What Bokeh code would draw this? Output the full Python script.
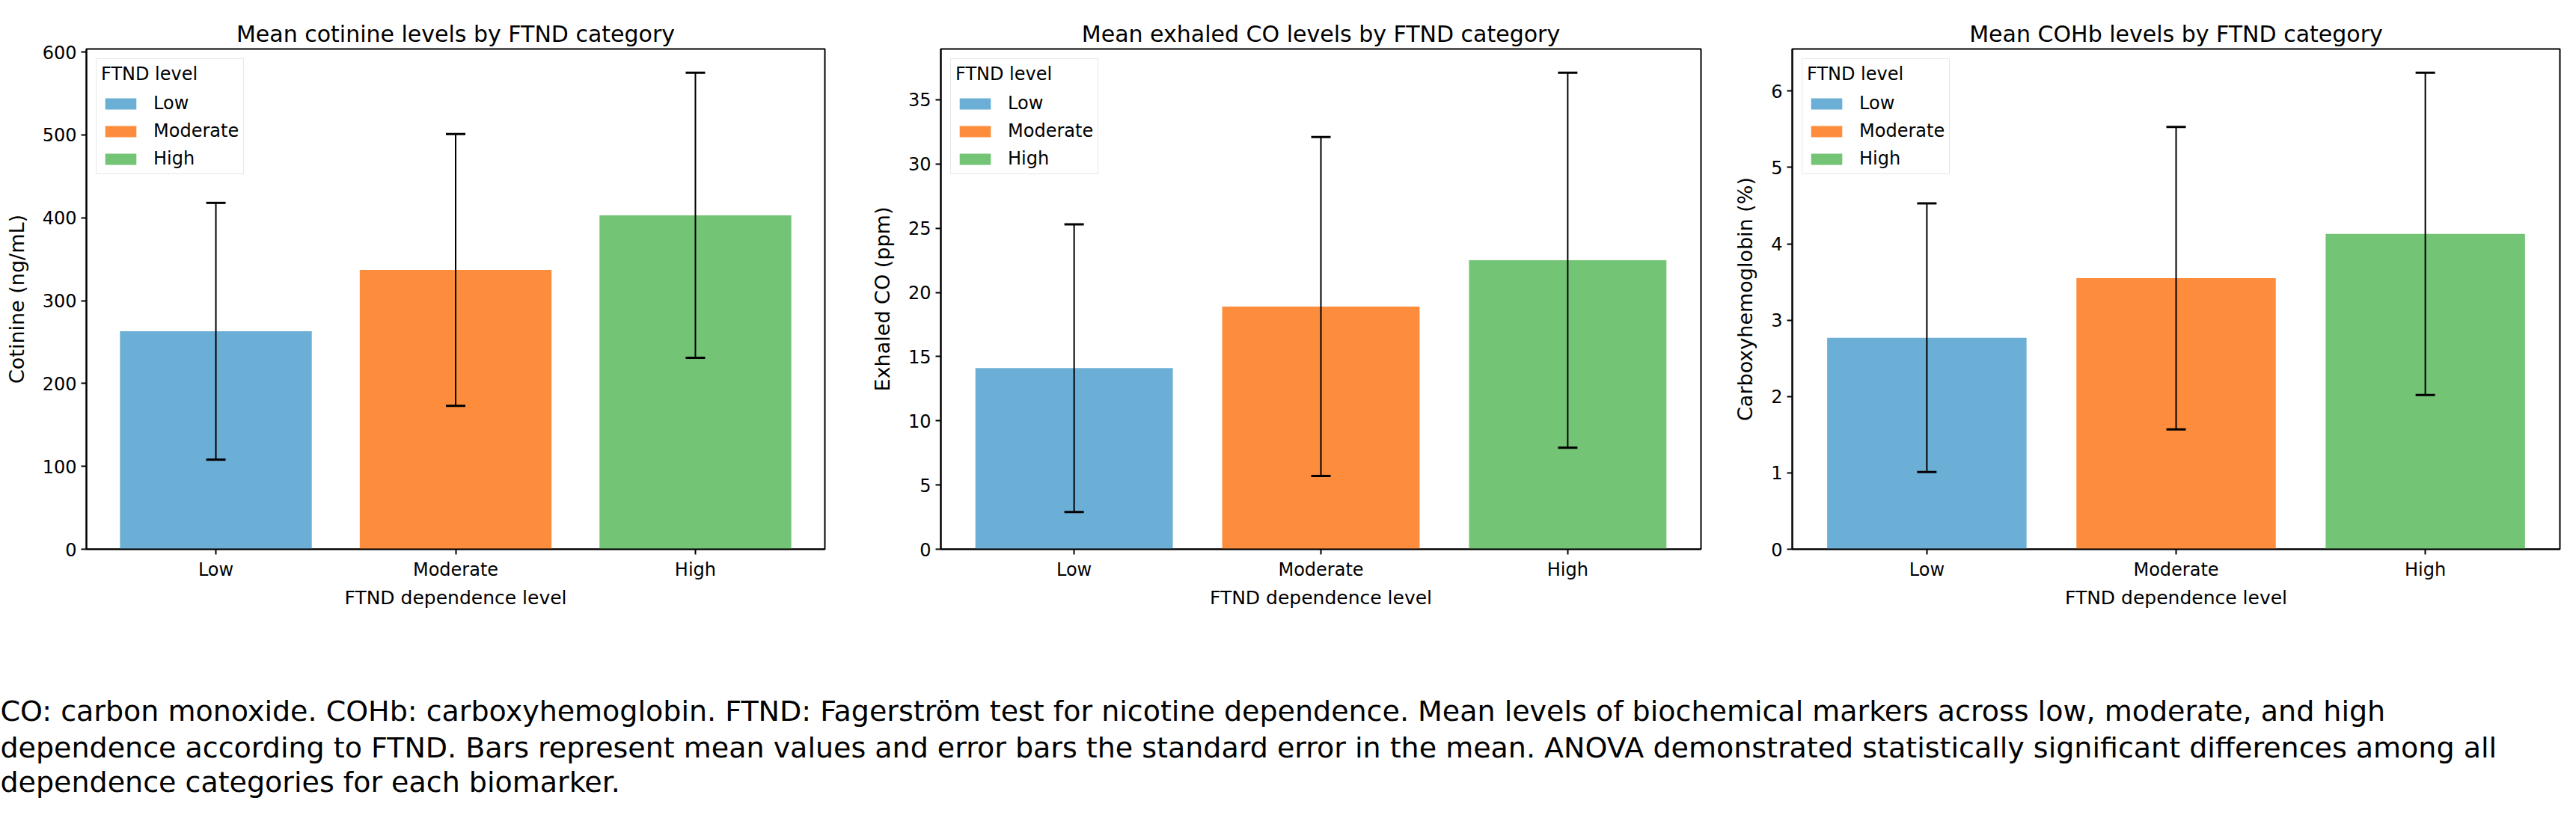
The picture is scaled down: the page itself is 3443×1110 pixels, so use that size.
from bokeh.plotting import figure
from bokeh.models import ColumnDataSource, Whisker, TeeHead, Range1d, FixedTicker, SingleIntervalTicker, Label
from bokeh.layouts import column, row
from bokeh.embed import file_html
from bokeh.resources import INLINE

# ---------------- data ----------------
categories = ["Low", "Moderate", "High"]
colors = ["#6baed6", "#fd8d3c", "#74c476"]

cotinine_mean = [263, 337, 403]
cotinine_err = [155, 164, 172]

co_mean = [14.1, 18.9, 22.5]
co_err = [11.2, 13.2, 14.6]

cohb_mean = [2.77, 3.55, 4.13]
cohb_err = [1.76, 1.98, 2.11]

titles = ["Mean cotinine levels by FTND category",
          "Mean exhaled CO levels by FTND category",
          "Mean COHb levels by FTND category"]
ylabels = ["Cotinine (ng/mL)", "Exhaled CO (ppm)", "Carboxyhemoglobin (%)"]
xlabel = "FTND dependence level"
legend_title = "FTND level"
y_intervals = [100, 5, 1]

caption_lines = [
    "CO: carbon monoxide. COHb: carboxyhemoglobin. FTND: Fagerström test for nicotine dependence. Mean levels of biochemical markers across low, moderate, and high",
    "dependence according to FTND. Bars represent mean values and error bars the standard error in the mean. ANOVA demonstrated statistically significant differences among all",
    "dependence categories for each biomarker.",
]

FONT = "DejaVu Sans"
BAR_W = 0.8


def make_panel(title, ylabel, means, errs, interval, width, height, mbl, mbr, mbt, mbb):
    x = list(range(len(categories)))
    upper = [m + e for m, e in zip(means, errs)]
    lower = [m - e for m, e in zip(means, errs)]
    src = ColumnDataSource(dict(x=x, top=means, upper=upper, lower=lower,
                                color=colors, label=categories))
    span = (len(categories) - 1) + BAR_W
    xpad = 0.05 * span
    ymax = max(upper) * 1.05
    p = figure(width=width, height=height,
               x_range=Range1d(-BAR_W / 2 - xpad, len(categories) - 1 + BAR_W / 2 + xpad),
               y_range=Range1d(0, ymax),
               toolbar_location=None, output_backend="svg",
               min_border_left=mbl, min_border_right=mbr,
               min_border_top=mbt, min_border_bottom=mbb)
    p.vbar(x="x", top="top", bottom=0, width=BAR_W, fill_color="color",
           line_color=None, source=src, legend_field="label")
    w = Whisker(base="x", upper="upper", lower="lower", source=src,
                line_color="black", line_width=2, level="overlay",
                upper_head=TeeHead(size=26, line_width=3, line_color="black"),
                lower_head=TeeHead(size=26, line_width=3, line_color="black"))
    p.add_layout(w)

    p.title.text = title
    p.title.align = "center"
    p.title.text_font = FONT
    p.title.text_font_size = "30px"
    p.title.text_font_style = "normal"
    p.title.text_color = "black"
    p.title.standoff = 5

    p.xgrid.visible = False
    p.ygrid.visible = False
    p.outline_line_color = "black"
    p.outline_line_width = 2
    p.background_fill_color = "white"
    p.border_fill_color = "white"

    p.xaxis.ticker = FixedTicker(ticks=x)
    p.xaxis.major_label_overrides = {i: c for i, c in zip(x, categories)}
    p.yaxis.ticker = SingleIntervalTicker(interval=interval)
    p.xaxis.axis_label = xlabel
    p.yaxis.axis_label = ylabel
    for ax in (p.xaxis, p.yaxis):
        ax.axis_line_color = "black"
        ax.axis_line_width = 2
        ax.major_tick_line_color = "black"
        ax.major_tick_line_width = 2
        ax.major_tick_out = 7
        ax.major_tick_in = 0
        ax.minor_tick_line_color = None
        ax.major_label_text_font = FONT
        ax.major_label_text_font_size = "24px"
        ax.major_label_text_color = "black"
        ax.major_label_standoff = 6
        ax.axis_label_text_font = FONT
        ax.axis_label_text_font_style = "normal"
        ax.axis_label_text_color = "black"
    p.xaxis.axis_label_text_font_size = "25px"
    p.yaxis.axis_label_text_font_size = "27px"
    p.yaxis.axis_label_standoff = 16
    p.xaxis.axis_label_standoff = 6

    lg = p.legend[0]
    lg.title = legend_title
    lg.title_text_font = FONT
    lg.title_text_font_size = "24px"
    lg.title_text_font_style = "normal"
    lg.title_text_color = "black"
    lg.title_text_align = "center"
    lg.title_standoff = 11
    lg.location = "top_left"
    lg.margin = 13
    lg.padding = 6
    lg.glyph_width = 52
    lg.glyph_height = 19
    lg.label_standoff = 18
    lg.label_text_font = FONT
    lg.label_text_font_size = "24px"
    lg.label_text_color = "black"
    lg.label_height = 28
    lg.spacing = 9
    lg.border_line_color = "#d0d0d0"
    lg.border_line_width = 1.5
    lg.background_fill_color = "white"
    lg.background_fill_alpha = 0.8
    return p


p1 = make_panel(titles[0], ylabels[0], cotinine_mean, cotinine_err, y_intervals[0],
                1160, 860, 115, 58, 45, 126)
p2 = make_panel(titles[1], ylabels[1], co_mean, co_err, y_intervals[1],
                1154, 860, 97, 41, 50, 114)
p3 = make_panel(titles[2], ylabels[2], cohb_mean, cohb_err, y_intervals[2],
                1113, 860, 77, 6, 65, 97)

CAP_W, CAP_H = 3427, 232
cap = figure(width=CAP_W, height=CAP_H, x_range=Range1d(0, CAP_W), y_range=Range1d(CAP_H, 0),
             toolbar_location=None, output_backend="svg",
             x_axis_location=None, y_axis_location=None,
             min_border=0)
cap.xgrid.visible = False
cap.ygrid.visible = False
cap.outline_line_color = None
line_y = [90, 139, 185]
for txt, yy in zip(caption_lines, line_y):
    cap.add_layout(Label(x=0, y=yy, text=txt, text_font=FONT, text_font_size="38px",
                         text_color="black", text_baseline="middle", text_align="left"))

layout = column(row(p1, p2, p3), cap)
open("out.html", "w").write(file_html(layout, INLINE))
